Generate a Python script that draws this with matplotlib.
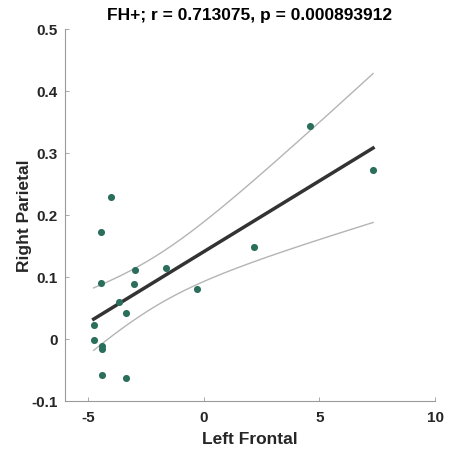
import matplotlib
matplotlib.use("Agg")
import matplotlib.pyplot as plt
import numpy as np

# Left Frontal vs Right Parietal values
left_frontal = np.array([-4.02, -4.43, -4.43, -2.98, -3.01, -1.63, -3.68, -3.36, -0.27,
                         -4.73, -4.76, -4.42, -4.38, -4.40, -3.36, 4.58, 7.32, 2.18])
right_parietal = np.array([0.230, 0.173, 0.091, 0.112, 0.089, 0.116, 0.061, 0.043, 0.081,
                           0.024, -0.001, -0.011, -0.016, -0.057, -0.062, 0.345, 0.273, 0.149])

title = "FH+; r = 0.713075, p = 0.000893912"
x_ticks = [-5, 0, 5, 10]
x_tick_labels = ["-5", "0", "5", "10"]
y_ticks = [-0.1, 0, 0.1, 0.2, 0.3, 0.4, 0.5]
y_tick_labels = ["-0.1", "0", "0.1", "0.2", "0.3", "0.4", "0.5"]

# linear fit with 95% confidence band of the mean
n = len(left_frontal)
slope, intercept = np.polyfit(left_frontal, right_parietal, 1)
resid = right_parietal - (slope * left_frontal + intercept)
s = np.sqrt(np.sum(resid ** 2) / (n - 2))
xbar = left_frontal.mean()
sxx = np.sum((left_frontal - xbar) ** 2)
t_crit = 2.1199  # t(0.975, 16)
xs = np.linspace(left_frontal.min(), left_frontal.max(), 200)
ys = slope * xs + intercept
half = t_crit * s * np.sqrt(1.0 / n + (xs - xbar) ** 2 / sxx)

plt.rcParams["font.family"] = ["Liberation Sans", "DejaVu Sans"]
plt.rcParams["font.weight"] = "bold"

fig = plt.figure(figsize=(4.5, 4.55), dpi=100)
ax = fig.add_axes([0.1444, 0.1176, 0.8223, 0.8176])

ax.plot(xs, ys + half, color="#b4b4b4", lw=1.0)
ax.plot(xs, ys - half, color="#b4b4b4", lw=1.0)
ax.plot(xs, ys, color="#333333", lw=2.5)
ax.scatter(left_frontal, right_parietal, s=26, color="#2b6e5c", zorder=3, linewidths=0)

ax.set_xlim(-6, 10)
ax.set_ylim(-0.1, 0.5)
ax.set_xticks(x_ticks)
ax.set_xticklabels(x_tick_labels)
ax.set_yticks(y_ticks)
ax.set_yticklabels(y_tick_labels)

for side in ["top", "right"]:
    ax.spines[side].set_visible(False)
for side in ["left", "bottom"]:
    ax.spines[side].set_color("#9a9a9a")
    ax.spines[side].set_linewidth(0.8)

ax.tick_params(direction="in", length=3, width=0.6, color="#9a9a9a",
               labelsize=11, labelcolor="#262626", pad=5)
ax.tick_params(axis="x", pad=7)
for lbl in ax.get_xticklabels() + ax.get_yticklabels():
    lbl.set_fontweight("bold")

ax.set_xlabel("Left Frontal", fontsize=12.5, fontweight="bold", color="#262626", labelpad=5)
ax.set_ylabel("Right Parietal", fontsize=12.5, fontweight="bold", color="#262626", labelpad=0)
ax.set_title(title, fontsize=12.5, fontweight="bold", color="#000000", pad=7)

fig.savefig("out.png", dpi=100)
plt.close(fig)
